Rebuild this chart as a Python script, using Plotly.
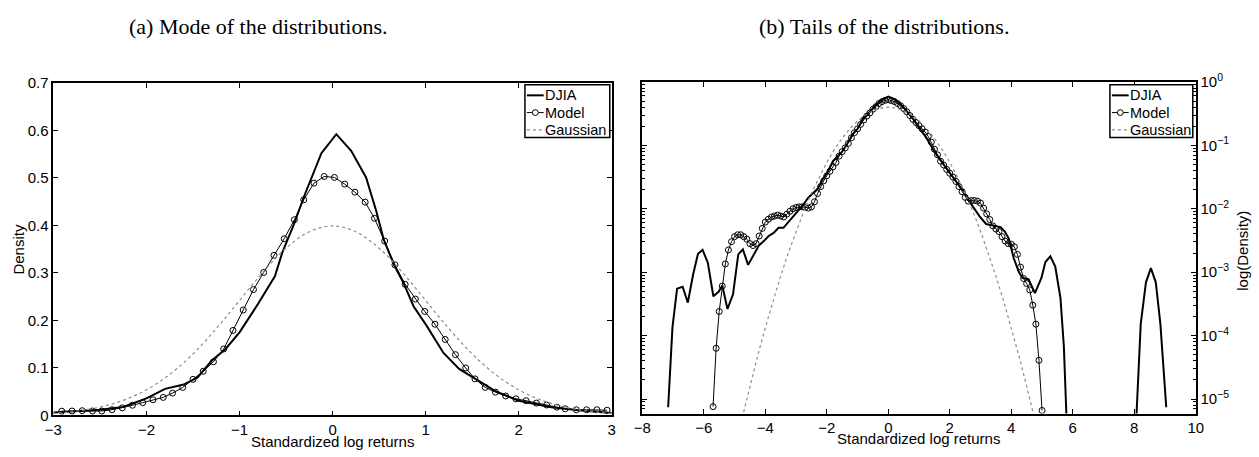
import numpy as np
import plotly.graph_objects as go

# ---------------- data: panel (a), linear scale ----------------
djia_a_x = [-3.0, -2.75, -2.5, -2.25, -2.0, -1.8, -1.6, -1.45, -1.3, -1.15, -1.0, -0.8, -0.62,
            -0.54, -0.42, -0.30, -0.12, 0.04, 0.2, 0.36, 0.47, 0.55, 0.60, 0.66, 0.76, 0.87,
            1.01, 1.19, 1.36, 1.54, 1.75, 2.0, 2.35, 2.7, 3.0]
djia_a_y = [0.006, 0.009, 0.012, 0.018, 0.036, 0.056, 0.065, 0.080, 0.115, 0.140, 0.175, 0.235, 0.293,
            0.343, 0.400, 0.464, 0.552, 0.592, 0.557, 0.501, 0.430, 0.370, 0.347, 0.317, 0.280, 0.230,
            0.189, 0.132, 0.098, 0.076, 0.051, 0.031, 0.0175, 0.010, 0.005]

model_a_x = [-2.91, -2.80, -2.69, -2.58, -2.48, -2.37, -2.26, -2.15, -2.04, -1.93, -1.82, -1.72,
             -1.61, -1.50, -1.39, -1.28, -1.17, -1.07, -0.96, -0.85, -0.74, -0.63, -0.52, -0.41,
             -0.31, -0.20, -0.09, 0.02, 0.13, 0.24, 0.35, 0.45, 0.56, 0.67, 0.78, 0.89, 0.99,
             1.10, 1.21, 1.32, 1.43, 1.53, 1.64, 1.75, 1.86, 1.97, 2.08, 2.19, 2.30, 2.41, 2.50,
             2.62, 2.73, 2.84, 2.95]
model_a_y = [0.009, 0.0094, 0.010, 0.0094, 0.0094, 0.012, 0.016, 0.0215, 0.027, 0.033, 0.038, 0.047,
             0.059, 0.076, 0.093, 0.113, 0.140, 0.179, 0.222, 0.265, 0.301, 0.337, 0.372, 0.412,
             0.454, 0.489, 0.503, 0.501, 0.487, 0.470, 0.449, 0.415, 0.367, 0.317, 0.276, 0.245, 0.219,
             0.192, 0.160, 0.128, 0.100, 0.077, 0.059, 0.049, 0.041, 0.035, 0.031, 0.026, 0.022, 0.0175, 0.014,
             0.012, 0.012, 0.012, 0.011]

gauss_x = [-4.75, -4.5, -4.25, -4.0, -3.75, -3.5, -3.25, -3.0, -2.75, -2.5, -2.25, -2.0, -1.75, -1.5,
           -1.25, -1.0, -0.75, -0.5, -0.25, 0.0, 0.25, 0.5, 0.75, 1.0, 1.25, 1.5, 1.75, 2.0, 2.25,
           2.5, 2.75, 3.0, 3.25, 3.5, 3.75, 4.0, 4.25, 4.5, 4.75]
gauss_y = [5.03e-6, 1.598e-5, 4.77e-5, 1.338e-4, 3.526e-4, 8.727e-4, 0.002029, 0.004432, 0.00909,
           0.01753, 0.03174, 0.05399, 0.08628, 0.12952, 0.18265, 0.24197, 0.30114, 0.35207, 0.38667,
           0.39894, 0.38667, 0.35207, 0.30114, 0.24197, 0.18265, 0.12952, 0.08628, 0.05399, 0.03174,
           0.01753, 0.00909, 0.004432, 0.002029, 8.727e-4, 3.526e-4, 1.338e-4, 4.77e-5, 1.598e-5, 5.03e-6]

# ---------------- data: panel (b), log scale (log10 of density) ----------------
djia_b_x = [-7.16, -7.02, -6.87, -6.69, -6.52, -6.35, -6.19, -6.04, -5.87, -5.69, -5.52, -5.40,
            -5.23, -5.05, -4.88, -4.73, -4.56, -4.37, -4.21, -4.05, -3.89, -3.73, -3.57, -3.41,
            -3.25, -3.09, -2.93, -2.77, -2.61, -2.45, -2.29, -2.13, -1.97, -1.80, -1.65, -1.50,
            -1.33, -1.15, -1.00, -0.80, -0.60, -0.40, -0.20, 0.00, 0.20, 0.40, 0.60, 0.80, 1.00,
            1.24, 1.50, 1.70, 1.90, 2.10, 2.30, 2.42, 2.63, 2.80, 2.97, 3.18, 3.45, 3.65, 3.79,
            3.92, 4.08, 4.24, 4.36, 4.56, 4.77, 4.98, 5.11, 5.27, 5.43, 5.60, 5.71, 5.85,
            None, 8.00, 8.21, 8.38, 8.54, 8.70, 8.85, 9.04]
djia_b_log = [-5.13, -3.87, -3.26, -3.23, -3.48, -3.04, -2.71, -2.65, -2.85, -3.38, -3.31, -3.21,
              -3.58, -3.35, -2.72, -2.64, -2.885, -2.71, -2.58, -2.51, -2.43, -2.38, -2.30, -2.30,
              -2.21, -2.13, -2.03, -1.94, -1.83, -1.76, -1.68, -1.53, -1.42, -1.25, -1.17, -1.10,
              -0.97, -0.82, -0.74, -0.56, -0.47, -0.36, -0.28, -0.23, -0.27, -0.35, -0.46, -0.58, -0.72,
              -0.88, -1.10, -1.24, -1.37, -1.50, -1.63, -1.70, -1.88, -2.00, -2.12, -2.24, -2.27, -2.29, -2.36,
              -2.47, -2.78, -2.99, -3.09, -3.11, -3.33, -3.09, -2.84, -2.75, -2.91, -3.41, -4.17, -6.0,
              None, -6.0, -3.82, -3.16, -2.935, -3.16, -3.82, -5.13]

model_b_x = [-5.7, -5.6, -5.5, -5.4, -5.3, -5.2, -5.1, -5.0, -4.9, -4.8, -4.7, -4.6, -4.5, -4.4,
             -4.3, -4.2, -4.1, -4.0, -3.9, -3.8, -3.7, -3.6, -3.5, -3.4, -3.3, -3.2, -3.1, -3.0,
             -2.9, -2.8, -2.7, -2.6, -2.5, -2.4, -2.3, -2.2, -2.1, -2.0, -1.9, -1.8, -1.7, -1.6,
             -1.5, -1.4, -1.3, -1.2, -1.1, -1.0, -0.9, -0.8, -0.7, -0.6, -0.5, -0.4, -0.3, -0.2,
             -0.1, 0.0, 0.1, 0.2, 0.3, 0.4, 0.5, 0.6, 0.7, 0.8, 0.9, 1.0, 1.1, 1.2, 1.3, 1.4,
             1.5, 1.6, 1.7, 1.8, 1.9, 2.0, 2.1, 2.2, 2.3, 2.4, 2.5, 2.6, 2.7, 2.8, 2.9, 3.0,
             3.1, 3.2, 3.3, 3.4, 3.5, 3.6, 3.7, 3.8, 3.9, 4.0, 4.1, 4.2, 4.3, 4.4, 4.5, 4.6,
             4.7, 4.8, 4.9, 5.0]
model_b_log = [-5.12, -4.20, -3.62, -3.22, -2.87, -2.65, -2.52, -2.44, -2.41, -2.41, -2.44, -2.48,
               -2.55, -2.58, -2.55, -2.43, -2.31, -2.21, -2.165, -2.13, -2.115, -2.10, -2.115, -2.13,
               -2.085, -2.04, -2.00, -1.98, -1.97, -1.97, -1.975, -1.99, -1.97, -1.89, -1.76, -1.65,
               -1.56, -1.48, -1.41, -1.34, -1.27, -1.17, -1.10, -1.04, -0.97, -0.88, -0.80, -0.74,
               -0.67, -0.60, -0.54, -0.49, -0.43, -0.39, -0.34, -0.31, -0.29, -0.28, -0.295, -0.31,
               -0.34, -0.375, -0.42, -0.47, -0.53, -0.59, -0.64, -0.69, -0.74, -0.79, -0.86, -0.95,
               -1.06, -1.15, -1.25, -1.31, -1.38, -1.44, -1.50, -1.57, -1.65, -1.73, -1.82, -1.88,
               -1.87, -1.87, -1.88, -1.91, -1.99, -2.08, -2.17, -2.27, -2.32, -2.36, -2.44, -2.51,
               -2.55, -2.56, -2.60, -2.72, -2.92, -3.10, -3.18, -3.28, -3.52, -3.82, -4.39, -5.18]

a_xticks = [-3, -2, -1, 0, 1, 2, 3]
a_yticks = [0, 0.1, 0.2, 0.3, 0.4, 0.5, 0.6, 0.7]
a_ytext = ["0", "0.1", "0.2", "0.3", "0.4", "0.5", "0.6", "0.7"]
b_xticks = [-8, -6, -4, -2, 0, 2, 4, 6, 8, 10]
b_ydecades = [0, -1, -2, -3, -4, -5]
legend_names = ["DJIA", "Model", "Gaussian"]


def to_density(logs):
    return [None if v is None else 10 ** v for v in logs]


W, H = 1259, 457
FONT = "Liberation Sans, Arial, Helvetica, sans-serif"
SERIF = "Liberation Serif, Times New Roman, serif"

fig = go.Figure()

djia_style = dict(color="black", width=2)
model_line = dict(color="black", width=1)
model_marker = dict(symbol="circle-open", size=6, color="black", line=dict(width=1, color="black"))
GAUSS_COLOR = "#8c8c8c"
gauss_style = dict(color=GAUSS_COLOR, width=1.2, dash="3px,3px")

# panel (a)
fig.add_trace(go.Scatter(x=djia_a_x, y=djia_a_y, mode="lines", name="DJIA", line=djia_style,
                         xaxis="x", yaxis="y", showlegend=False))
fig.add_trace(go.Scatter(x=model_a_x, y=model_a_y, mode="lines+markers", name="Model", line=model_line,
                         marker=model_marker, xaxis="x", yaxis="y", showlegend=False))
fig.add_trace(go.Scatter(x=gauss_x, y=gauss_y, mode="lines", name="Gaussian", line=gauss_style,
                         line_shape="spline", xaxis="x", yaxis="y", showlegend=False))

# panel (b)
fig.add_trace(go.Scatter(x=djia_b_x, y=to_density(djia_b_log), mode="lines", name="DJIA", line=djia_style,
                         connectgaps=False, xaxis="x2", yaxis="y2", showlegend=False))
fig.add_trace(go.Scatter(x=model_b_x, y=to_density(model_b_log), mode="lines+markers", name="Model",
                         line=model_line, marker=model_marker, xaxis="x2", yaxis="y2", showlegend=False))
fig.add_trace(go.Scatter(x=gauss_x, y=gauss_y, mode="lines", name="Gaussian", line=gauss_style,
                         xaxis="x2", yaxis="y2", showlegend=False))


def px_x(p):
    return p / W


def px_y(p):
    return (H - p) / H


axis_common = dict(showgrid=False, zeroline=False, showline=True, linecolor="black", linewidth=1.5,
                   mirror="allticks", ticks="inside", ticklen=5, tickcolor="black", tickwidth=1,
                   tickfont=dict(family=FONT, size=15, color="black"))

minor_vals = [k * 10.0 ** d for d in range(-6, 0) for k in range(2, 10)]

annotations = [
    dict(text="(a) Mode of the distributions.", x=px_x(252), y=px_y(16), xref="paper", yref="paper",
         showarrow=False, font=dict(family=SERIF, size=22, color="black"), xanchor="center", yanchor="middle"),
    dict(text="(b) Tails of the distributions.", x=px_x(887), y=px_y(16), xref="paper", yref="paper",
         showarrow=False, font=dict(family=SERIF, size=22, color="black"), xanchor="center", yanchor="middle"),
    dict(text="Standardized log returns", x=px_x(328), y=px_y(449), xref="paper", yref="paper",
         showarrow=False, font=dict(family=FONT, size=15, color="black"), xanchor="center", yanchor="middle"),
    dict(text="Standardized log returns", x=px_x(922), y=px_y(446), xref="paper", yref="paper",
         showarrow=False, font=dict(family=FONT, size=15, color="black"), xanchor="center", yanchor="middle"),
    dict(text="Density", x=px_x(10), y=px_y(248), xref="paper", yref="paper", textangle=-90,
         showarrow=False, font=dict(family=FONT, size=15, color="black"), xanchor="center", yanchor="middle"),
    dict(text="log(Density)", x=px_x(1250), y=px_y(250), xref="paper", yref="paper", textangle=-90,
         showarrow=False, font=dict(family=FONT, size=15, color="black"), xanchor="center", yanchor="middle"),
]

shapes = []
# hand-built MATLAB-style legends (box, sample glyphs, labels)
for (bx0, bx1) in [(523, 609), (1116, 1200)]:
    by0, by1 = 77, 132
    shapes.append(dict(type="rect", xref="paper", yref="paper", x0=px_x(bx0), x1=px_x(bx1),
                       y0=px_y(by1), y1=px_y(by0), line=dict(color="black", width=1.5), fillcolor="white",
                       layer="above"))
    rows = [88, 106, 124]
    lx0, lx1 = bx0 + 2, bx0 + 19
    styles = [dict(color="black", width=2), dict(color="black", width=1),
              dict(color=GAUSS_COLOR, width=1.2, dash="3px,3px")]
    for name, ry, st in zip(legend_names, rows, styles):
        shapes.append(dict(type="line", xref="paper", yref="paper", x0=px_x(lx0), x1=px_x(lx1),
                           y0=px_y(ry), y1=px_y(ry), line=st, layer="above"))
        annotations.append(dict(text=name, x=px_x(bx0 + 18), y=px_y(ry), xref="paper", yref="paper",
                                showarrow=False, xanchor="left", yanchor="middle",
                                font=dict(family=FONT, size=14.5, color="black")))
    cx = (lx0 + lx1) / 2
    shapes.append(dict(type="circle", xref="paper", yref="paper", x0=px_x(cx - 3), x1=px_x(cx + 3),
                       y0=px_y(rows[1] + 3), y1=px_y(rows[1] - 3), line=dict(color="black", width=1),
                       fillcolor="white", layer="above"))

fig.update_layout(
    width=W, height=H, margin=dict(l=0, r=0, t=0, b=0),
    paper_bgcolor="white", plot_bgcolor="white", showlegend=False,
    xaxis=dict(domain=[px_x(45), px_x(611)], range=[-3, 3], tickmode="array", tickvals=a_xticks,
               anchor="y", **axis_common),
    yaxis=dict(domain=[px_y(422), px_y(75)], range=[0, 0.7], tickmode="array", tickvals=a_yticks,
               ticktext=a_ytext, anchor="x", **axis_common),
    xaxis2=dict(domain=[px_x(642), px_x(1203)], range=[-8, 10], tickmode="array", tickvals=b_xticks,
                anchor="y2", **axis_common),
    yaxis2=dict(domain=[px_y(420), px_y(74)], type="log", range=[np.log10(5.9e-6), 0], side="right",
                tickmode="array", tickvals=[10.0 ** d for d in b_ydecades],
                ticktext=["10<sup>%s</sup>" % (str(d).replace("-", "\u2212")) for d in b_ydecades],
                minor=dict(tickmode="array", tickvals=minor_vals, ticks="inside", ticklen=3,
                           tickcolor="black", showgrid=False),
                anchor="x2", **axis_common),
    annotations=annotations,
    shapes=shapes,
)

fig.write_html("out.html")
